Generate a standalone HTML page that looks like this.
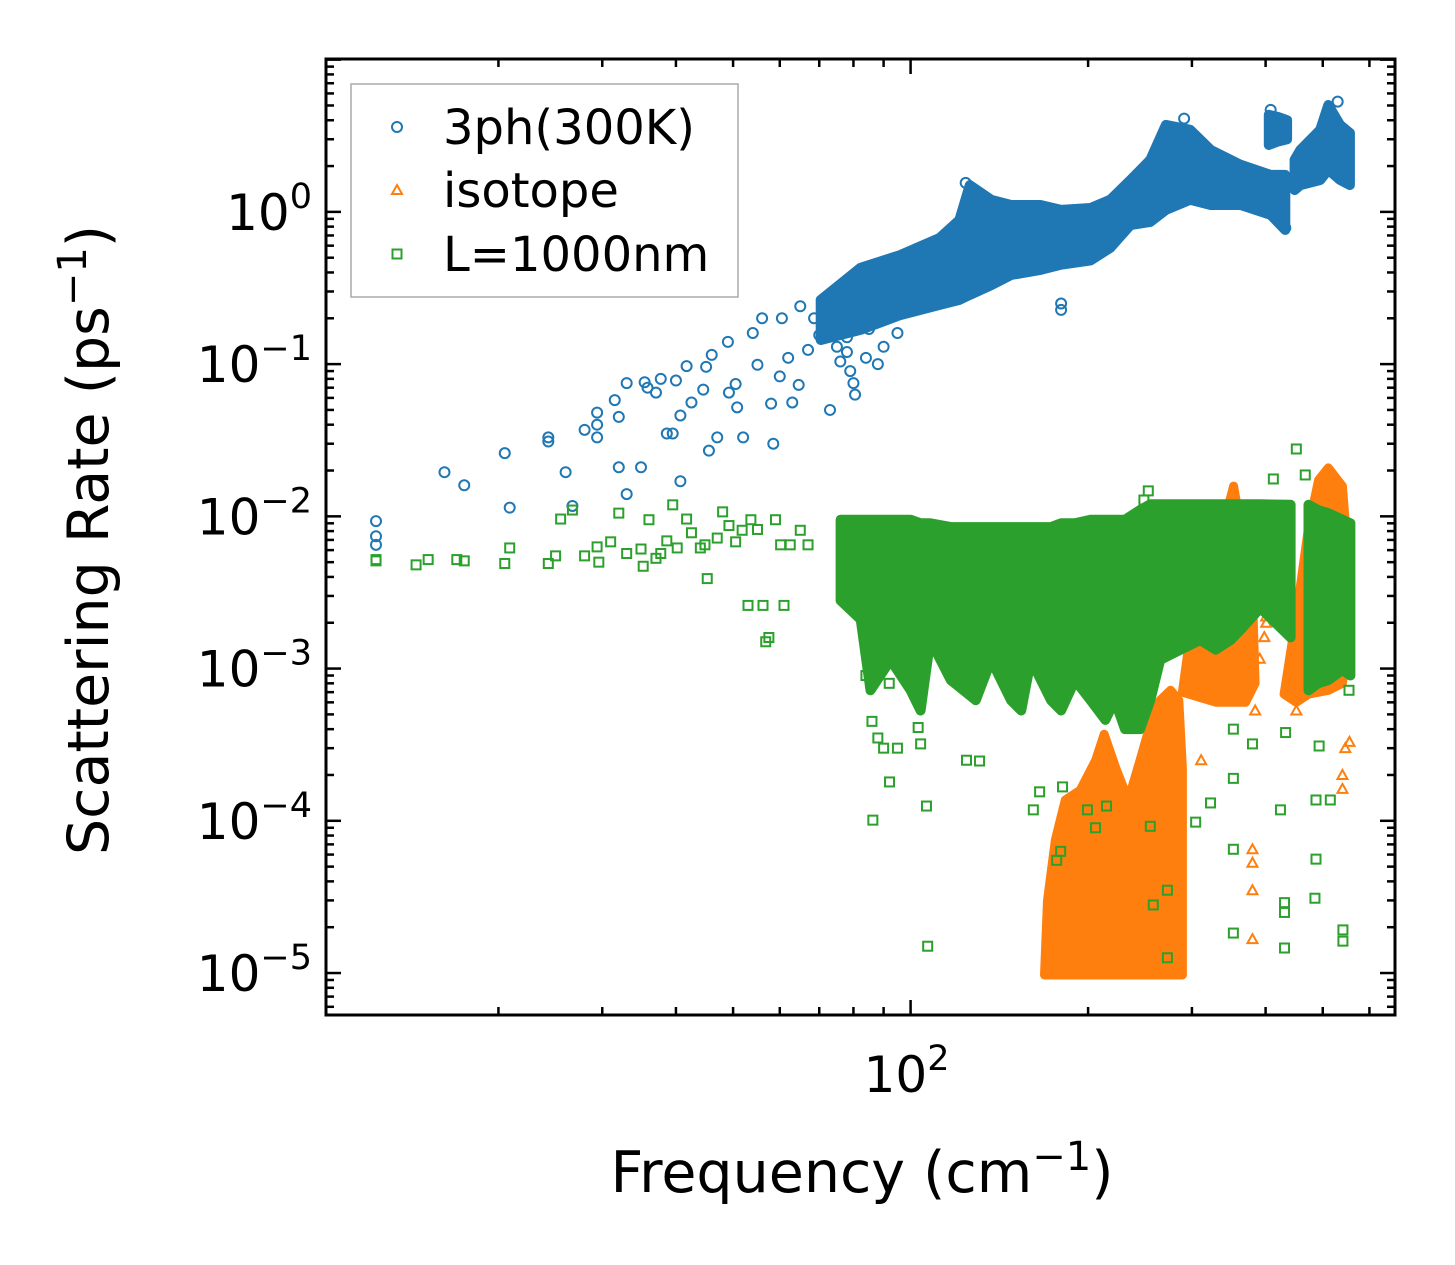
<!DOCTYPE html>
<html><head><meta charset="utf-8"><style>
html,body{margin:0;padding:0;background:#fff}
svg{display:block;font-family:"DejaVu Sans","Liberation Sans",sans-serif}
</style></head><body>
<svg id="chart" width="1455" height="1265" viewBox="0 0 1455 1265" xmlns="http://www.w3.org/2000/svg">
<rect width="1455" height="1265" fill="#fff"/>
<defs><clipPath id="plotclip"><rect x="326" y="59" width="1069" height="956"/></clipPath></defs>
<g id="marks" clip-path="url(#plotclip)"></g>
<g id="axes"></g>
<text x="108" y="540" transform="rotate(-90 108 540)" text-anchor="middle" font-size="57">Scattering Rate (ps<tspan dy="-22" font-size="40">−1</tspan><tspan dy="22">)</tspan></text>
<text x="862" y="1192" text-anchor="middle" font-size="57">Frequency (cm<tspan dy="-22" font-size="40">−1</tspan><tspan dy="22">)</tspan></text>
<g>
<rect x="351" y="84" width="387" height="213" fill="#fff" stroke="#aaa" stroke-width="1.5"/>
<circle cx="397" cy="127" r="5" fill="none" stroke="#1f77b4" stroke-width="2"/>
<text x="443" y="144" font-size="48">3ph(300K)</text>
<polygon points="397,185 402,194 392,194" fill="none" stroke="#ff7f0e" stroke-width="2"/>
<text x="443" y="207" font-size="48">isotope</text>
<rect x="392.5" y="249.5" width="9" height="9" fill="none" stroke="#2ca02c" stroke-width="2"/>
<text x="443" y="271" font-size="48">L=1000nm</text>
</g>
</svg>
<script>
// ---- data ----
const xDomain = [10.2, 663];
const yDomain = [5.3e-6, 10.1];
const xMajorTicks = [100];
const xMinorTicks = [20,30,40,50,60,70,80,90,200,300,400,500,600];
const yMajorTicks = [1e-5,1e-4,1e-3,1e-2,1e-1,1];
const yMajorLabels = ["−5","−4","−3","−2","−1","0"];
// blue: 3-phonon scattered points [freq, rate]
const blueFreq = [12.4,12.4,12.4,16.2,17.5,20.5,20.9,24.3,24.3,26,26.7,28,29.4,29.4,29.4,31.5,32,32,33,33,34.9,35.4,35.8,37,37.7,38.6,39.5,40,40.7,40.7,41.7,42.5,44.5,45,46,45.5,47,49,49.2,50.5,50.8,52,54,55,56,58,58.5,60,60.5,62,63,64.6,65,67,68.6,70,73,76,78,79,80,80.5,85,88,82,180,180,124,291,408,432,483,535,530,75,78,84,90,95,72];
const blueRate = [0.0093,0.0074,0.0065,0.0195,0.016,0.026,0.0114,0.033,0.031,0.0195,0.0117,0.037,0.048,0.04,0.033,0.058,0.045,0.021,0.075,0.014,0.021,0.076,0.07,0.065,0.08,0.035,0.035,0.078,0.017,0.046,0.097,0.056,0.068,0.096,0.115,0.027,0.033,0.14,0.065,0.074,0.052,0.033,0.16,0.099,0.2,0.055,0.03,0.083,0.2,0.11,0.056,0.073,0.24,0.124,0.2,0.155,0.05,0.104,0.15,0.09,0.075,0.063,0.17,0.1,0.3,0.227,0.25,1.55,4.1,4.68,0.785,1.83,1.67,5.3,0.13,0.12,0.11,0.13,0.16,0.22];
// blue dense band [freq, upper, lower]
const blueBandFreq  = [70.4,82.3,96,112,121,126,137,148,166,180,202,218,236,255,271,298,323,363,408,432];
const blueBandUpper = [0.264,0.43,0.52,0.675,0.886,1.5,1.2,1.11,1.11,1.03,1.06,1.2,1.62,2.2,3.73,3.46,2.55,2.04,1.75,1.75];
const blueBandLower = [0.144,0.168,0.21,0.245,0.264,0.285,0.33,0.385,0.416,0.45,0.48,0.58,0.82,0.86,1.03,1.2,1.11,1.11,0.956,0.76];
const blueBand2Freq  = [405,420,435];
const blueBand2Upper = [4.34,4.2,4.0];
const blueBand2Lower = [2.75,2.9,3.0];
const blueBand3Freq  = [448,458,495,511,535,556];
const blueBand3Upper = [2.2,2.55,3.46,5.04,3.73,3.3];
const blueBand3Lower = [1.39,1.5,1.62,1.89,1.62,1.5];
// green: boundary scattering scattered points
const greenFreq = [12.4,12.4,14.5,15.2,17,17.5,20.5,20.9,24.3,25,25.5,26.7,28,29.4,29.6,31,32,33,34.9,35.2,36,37,37.7,38.6,39.5,40.2,41.7,42.5,44,44.8,45.2,47,48,49.2,50.5,51.8,53,53.6,55,56.2,56.8,57.5,59,60.2,61,62.5,65,67,
  86.3,92.1,106.4,106.9,124.4,130.9,161.5,165.5,176.9,179.7,181,199.5,205.9,214.9,255,258,272.6,272.6,304.4,322.6,352.7,352.7,423.9,430.7,430.7,430.7,487,485,541,541,515,487,451,412.3,467,253,248.7,276.8,352.7,352.7,380,432.5,493,554,88,86,90,95,103,104,92,84];
const greenRate = [0.0052,0.0051,0.0048,0.0052,0.0052,0.0051,0.0049,0.0062,0.0049,0.0055,0.0096,0.011,0.0055,0.0063,0.005,0.0068,0.0105,0.0057,0.0061,0.0047,0.0095,0.0053,0.0057,0.0069,0.0119,0.0062,0.0096,0.0078,0.0062,0.0065,0.0039,0.0072,0.0107,0.0087,0.0068,0.0081,0.0026,0.0095,0.0082,0.0026,0.0015,0.0016,0.0095,0.0065,0.0026,0.0065,0.0081,0.0065,
  0.000101,0.00018,0.000125,1.5e-5,0.00025,0.000247,0.000118,0.000155,5.5e-5,6.3e-5,0.000167,0.000118,9e-5,0.000125,9.2e-5,2.8e-5,3.5e-5,1.26e-5,9.8e-5,0.000131,6.5e-5,1.83e-5,0.000118,2.9e-5,2.5e-5,1.46e-5,0.000137,3.1e-5,1.92e-5,1.62e-5,0.000137,5.6e-5,0.0277,0.0176,0.0187,0.0147,0.0128,0.0115,0.0004,0.00019,0.00032,0.00038,0.00031,0.00072,0.00035,0.00045,0.0003,0.0003,0.00041,0.00032,0.0008,0.0009];
// green dense band
const greenBandFreq  = [76.1,82.3,85.5,92.5,100,104,108,117,129,137,148,154,160,173,180,190,202,214,222,231,245,255,265,287,310,329,349,363,392,441];
const greenBandUpper = [0.0095,0.0095,0.0095,0.0095,0.0095,0.009,0.009,0.0085,0.0085,0.0085,0.0085,0.0085,0.0085,0.0085,0.009,0.009,0.0095,0.0095,0.0095,0.0095,0.011,0.012,0.012,0.012,0.012,0.012,0.012,0.012,0.012,0.0119];
const greenBandLower = [0.0028,0.0021,0.00072,0.00114,0.00072,0.00053,0.00154,0.00084,0.00062,0.00114,0.00062,0.00053,0.00114,0.00062,0.00053,0.00084,0.00062,0.00046,0.00062,0.0004,0.0004,0.00062,0.00114,0.00133,0.00154,0.00133,0.00154,0.0018,0.0025,0.0016];
const greenBand2Freq  = [473,491,511,540,557];
const greenBand2Upper = [0.0119,0.011,0.0105,0.0095,0.009];
const greenBand2Lower = [0.00072,0.0008,0.00084,0.00098,0.0009];
// orange: isotope regions (polygon vertices [freq, rate])
const orangeRegion1 = [[168.7,9.7e-6],[170.7,3.0e-5],[176,7.5e-5],[183,0.000137],[194,0.000159],[206,0.00025],[213,0.00037],[223,0.00022],[234,0.000137],[245,0.00025],[255,0.00043],[265,0.00062],[276,0.00072],[285,0.00062],[289,0.00022],[289,9.7e-6]];
const orangeRegion2 = [[289,0.0007],[300,0.002],[340,0.009],[353,0.0158],[362,0.009],[380,0.003],[384,0.0008],[370,0.0006],[330,0.0006]];
const orangeRegion3 = [[430,0.00068],[451,0.00222],[473,0.0084],[492,0.0173],[511,0.0208],[540,0.0158],[546,0.009],[555,0.002],[540,0.0008],[511,0.00072],[473,0.00068],[451,0.0006]];
const orangeFreq = [380,380,380,380,555,540,540,311,451,384,391,398,401,401,546];
const orangeRate = [6.5e-5,5.3e-5,3.5e-5,1.67e-5,0.00033,0.0002,0.000162,0.00025,0.00053,0.00053,0.00116,0.00161,0.0022,0.002,0.0003];

// ---- scales ----
const X0=326,X1=1395,Y0=59,Y1=1015;
const lx0=Math.log10(xDomain[0]),lx1=Math.log10(xDomain[1]);
const ly0=Math.log10(yDomain[0]),ly1=Math.log10(yDomain[1]);
function sx(v){return X0+(Math.log10(v)-lx0)/(lx1-lx0)*(X1-X0);}
function sy(v){return Y1-(Math.log10(v)-ly0)/(ly1-ly0)*(Y1-Y0);}
const NS='http://www.w3.org/2000/svg';
const marks=document.getElementById('marks');
const axes=document.getElementById('axes');
function mk(tag,attrs,parent){const e=document.createElementNS(NS,tag);for(const k in attrs)e.setAttribute(k,attrs[k]);parent.appendChild(e);return e;}

function band(fr,up,lo,color,name){
  let pts=[];
  for(let i=0;i<fr.length;i++)pts.push(sx(fr[i]).toFixed(1)+','+sy(up[i]).toFixed(1));
  for(let i=fr.length-1;i>=0;i--)pts.push(sx(fr[i]).toFixed(1)+','+sy(lo[i]).toFixed(1));
  const p=mk('polygon',{points:pts.join(' '),fill:color,stroke:color,'stroke-width':10,'stroke-linejoin':'round'},marks);
  
  
}
function region(arr,color,name){
  const pts=arr.map(d=>sx(d[0]).toFixed(1)+','+sy(d[1]).toFixed(1)).join(' ');
  const p=mk('polygon',{points:pts,fill:color,stroke:color,'stroke-width':9,'stroke-linejoin':'round'},marks);
  
  
}
function circles(fr,rt){
  for(let i=0;i<fr.length;i++){
    const c=mk('circle',{cx:sx(fr[i]),cy:sy(rt[i]),r:5,fill:'none',stroke:'#1f77b4','stroke-width':2},marks);
    
    
  }
}
function squares(fr,rt){
  for(let i=0;i<fr.length;i++){
    const c=mk('rect',{x:sx(fr[i])-4.5,y:sy(rt[i])-4.5,width:9,height:9,fill:'none',stroke:'#2ca02c','stroke-width':2},marks);
    
    
  }
}
function triangles(fr,rt){
  for(let i=0;i<fr.length;i++){
    const x=sx(fr[i]),y=sy(rt[i]);
    const c=mk('polygon',{points:`${x},${y-5} ${x+5},${y+4} ${x-5},${y+4}`,fill:'none',stroke:'#ff7f0e','stroke-width':2},marks);
    
    
  }
}
// draw order: 3ph, isotope, boundary
band(blueBandFreq,blueBandUpper,blueBandLower,'#1f77b4','band-3ph');
band(blueBand2Freq,blueBand2Upper,blueBand2Lower,'#1f77b4','band-3ph-2');
band(blueBand3Freq,blueBand3Upper,blueBand3Lower,'#1f77b4','band-3ph-3');
circles(blueFreq,blueRate);
region(orangeRegion1,'#ff7f0e','region-isotope-1');
region(orangeRegion2,'#ff7f0e','region-isotope-2');
region(orangeRegion3,'#ff7f0e','region-isotope-3');
triangles(orangeFreq,orangeRate);
band(greenBandFreq,greenBandUpper,greenBandLower,'#2ca02c','band-boundary');
band(greenBand2Freq,greenBand2Upper,greenBand2Lower,'#2ca02c','band-boundary-2');
squares(greenFreq,greenRate);

// ---- axes ----
function tick(x1,y1,x2,y2,name){
  const l=mk('line',{x1,y1,x2,y2,stroke:'#000','stroke-width':2.5},axes);
  
  
}
xMajorTicks.forEach(v=>{const x=sx(v);tick(x,Y1,x,Y1-15,'x-major-tick');tick(x,Y0,x,Y0+15,'x-major-tick-top');
  const t=mk('text',{x:x-4,y:1092,'text-anchor':'middle','font-size':50},axes);
  
  
  t.innerHTML='10<tspan dy="-22" font-size="35">2</tspan>';});
xMinorTicks.forEach(v=>{const x=sx(v);tick(x,Y1,x,Y1-8,'x-minor-tick');tick(x,Y0,x,Y0+8,'x-minor-tick-top');});
for(let d=-6;d<=1;d++){for(let m=1;m<10;m++){const v=m*Math.pow(10,d);if(v<yDomain[0]||v>yDomain[1])continue;const y=sy(v);
  const len=m===1?15:8;tick(X0,y,X0+len,y,m===1?'y-major-tick':'y-minor-tick');tick(X1,y,X1-len,y,m===1?'y-major-tick-right':'y-minor-tick-right');}}
yMajorTicks.forEach((v,i)=>{const y=sy(v);
  const t=mk('text',{x:312,y:y+18,'text-anchor':'end','font-size':50},axes);
  
  
  t.innerHTML='10<tspan dy="-22" font-size="35">'+yMajorLabels[i]+'</tspan>';});
const fr=mk('rect',{x:X0,y:Y0,width:X1-X0,height:Y1-Y0,fill:'none',stroke:'#000','stroke-width':3},axes);


</script>
</body></html>
